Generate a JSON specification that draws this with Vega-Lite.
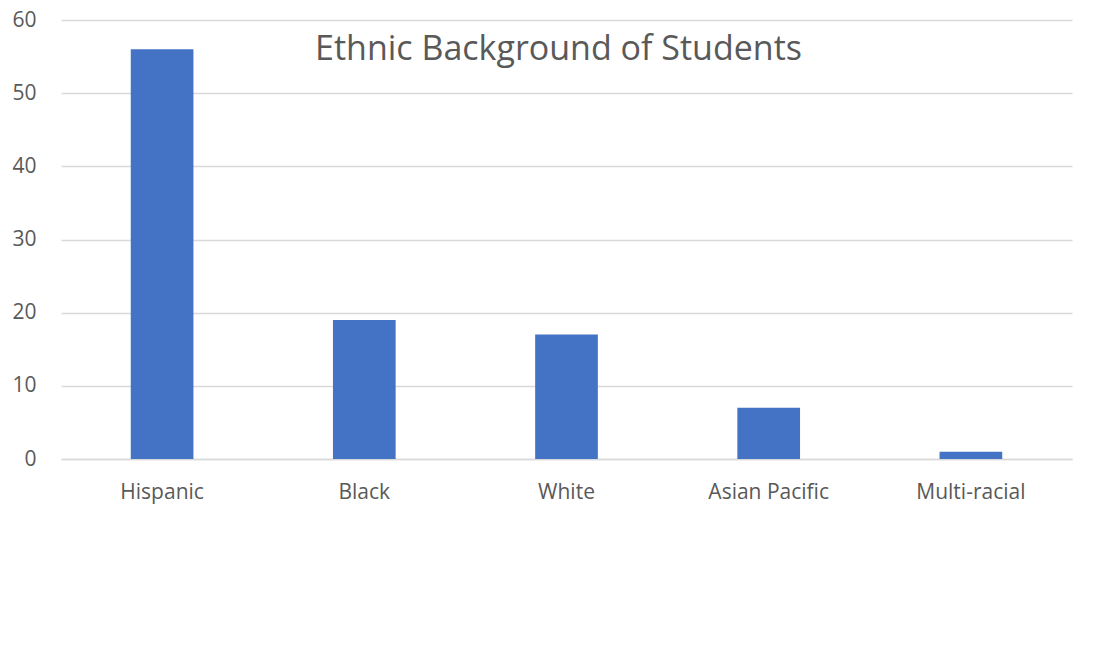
{
  "$schema": "https://vega.github.io/schema/vega-lite/v6.json",
  "width": 1011,
  "height": 439,
  "autosize": "none",
  "padding": {"left": 61, "top": 20, "right": 27, "bottom": 196},
  "background": "white",
  "config": {"view": {"stroke": null}, "font": "Open Sans"},
  "title": {
    "text": "Ethnic Background of Students",
    "fontSize": 34,
    "font": "Open Sans",
    "fontWeight": "normal",
    "color": "#595959",
    "anchor": "middle",
    "baseline": "alphabetic",
    "offset": -85,
    "dx": -8
  },
  "data": {
    "values": [
      {"group": "Hispanic", "count": 56},
      {"group": "Black", "count": 19},
      {"group": "White", "count": 17},
      {"group": "Asian Pacific", "count": 7},
      {"group": "Multi-racial", "count": 1}
    ]
  },
  "mark": {"type": "bar", "color": "#4472C4"},
  "encoding": {
    "x": {
      "field": "group",
      "type": "nominal",
      "sort": null,
      "scale": {"paddingInner": 0.69, "paddingOuter": 0.345},
      "axis": {
        "title": null,
        "labelAngle": 0,
        "labelFontSize": 21,
        "labelColor": "#595959",
        "labelPadding": 22,
        "ticks": false,
        "domain": true,
        "domainColor": "#d9d9d9",
        "domainWidth": 1.5,
        "grid": false
      }
    },
    "y": {
      "field": "count",
      "type": "quantitative",
      "scale": {"domain": [0, 60], "nice": false},
      "axis": {
        "title": null,
        "values": [0, 10, 20, 30, 40, 50, 60],
        "labelFontSize": 21,
        "labelColor": "#595959",
        "labelPadding": 25,
        "ticks": false,
        "domain": false,
        "grid": true,
        "gridColor": "#d9d9d9",
        "gridWidth": 1.5
      }
    }
  }
}
